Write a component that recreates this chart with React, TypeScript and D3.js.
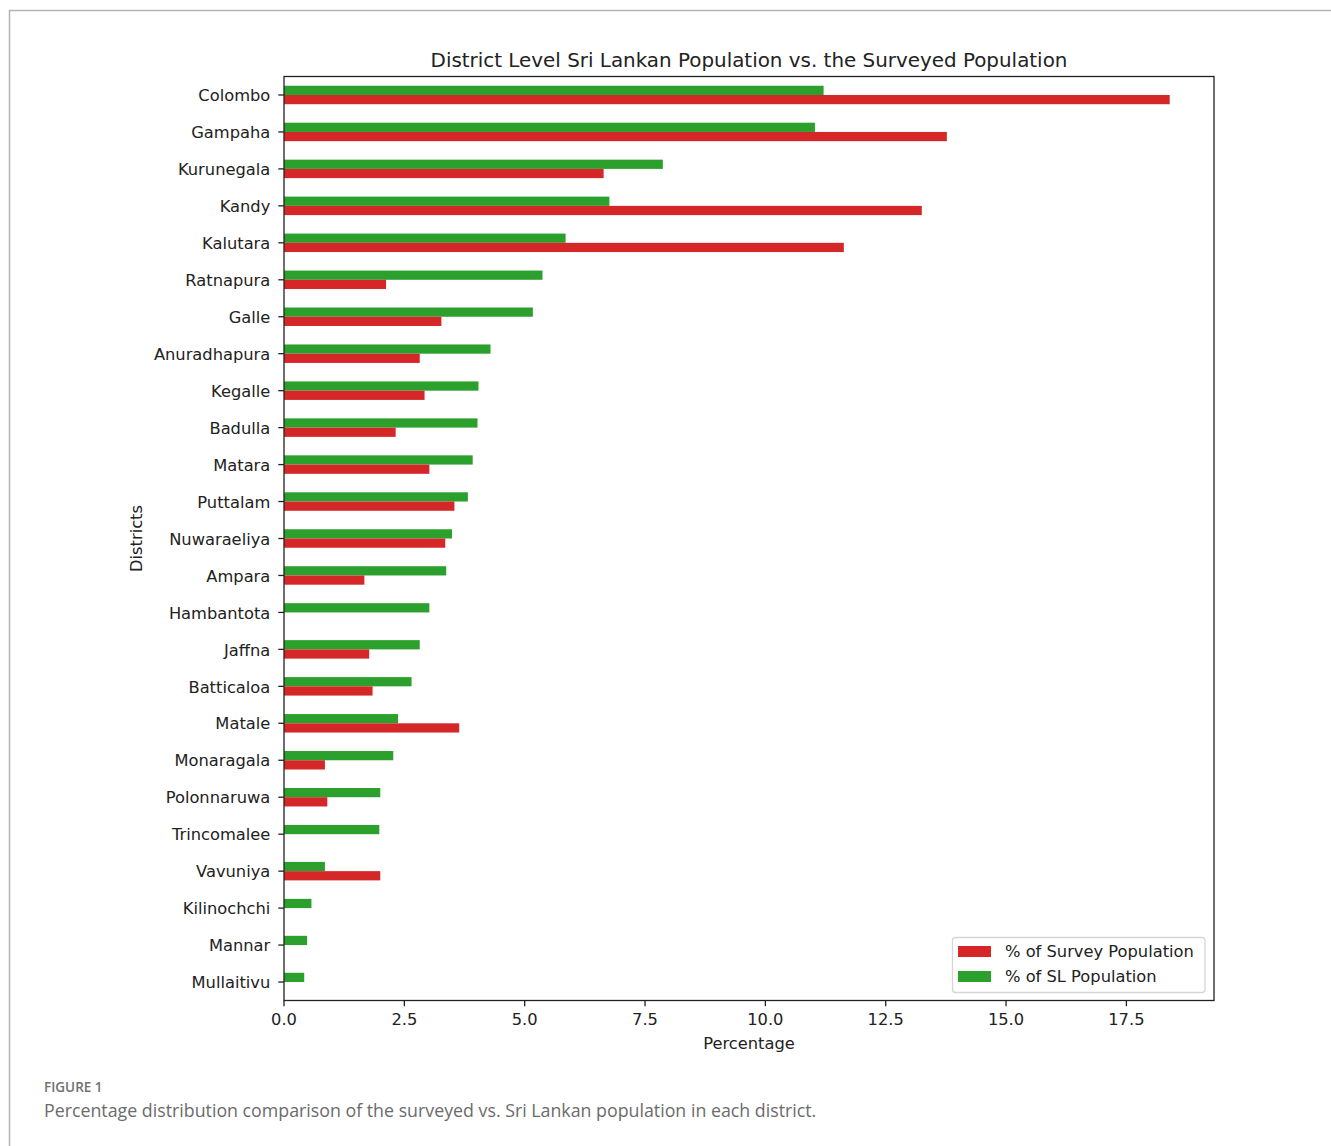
import React from "react";
import * as d3 from "d3";

// Districts, in plotting order (top to bottom)
const districts = [
  "Colombo", "Gampaha", "Kurunegala", "Kandy", "Kalutara", "Ratnapura", "Galle",
  "Anuradhapura", "Kegalle", "Badulla", "Matara", "Puttalam", "Nuwaraeliya", "Ampara",
  "Hambantota", "Jaffna", "Batticaloa", "Matale", "Monaragala", "Polonnaruwa",
  "Trincomalee", "Vavuniya", "Kilinochchi", "Mannar", "Mullaitivu",
];

// Share of the surveyed population per district (%)
const surveyPct = [
  18.4, 13.77, 6.64, 13.25, 11.63, 2.12, 3.27,
  2.82, 2.92, 2.32, 3.02, 3.54, 3.35, 1.67,
  0, 1.77, 1.84, 3.64, 0.85, 0.9,
  0, 2.0, 0, 0, 0,
];

// Share of the Sri Lankan population per district (%)
const slPct = [
  11.21, 11.03, 7.87, 6.76, 5.85, 5.37, 5.17,
  4.29, 4.04, 4.02, 3.92, 3.82, 3.49, 3.37,
  3.02, 2.82, 2.65, 2.37, 2.27, 2.0,
  1.98, 0.85, 0.57, 0.48, 0.42,
];

const xTicks = [0, 2.5, 5, 7.5, 10, 12.5, 15, 17.5];

const seriesNames = ["% of Survey Population", "% of SL Population"];
const RED = "#d62728";
const GREEN = "#2ca02c";
const INK = "#222";
const FONT = "'DejaVu Sans', sans-serif";
const CAPTION_FONT = "'Open Sans', Lato, sans-serif";

export default function App() {
  const W = 1331;
  const H = 1146;
  const left = 284;
  const right = 1214;
  const top = 76.5;
  const bottom = 1000.5;

  const xMax = d3.max(surveyPct.concat(slPct)) as number;
  const x = d3.scaleLinear().domain([0, xMax * 1.05]).range([left, right]);
  const y = d3
    .scaleLinear()
    .domain([-0.5, districts.length - 0.5])
    .range([top, bottom]);
  const step = y(1) - y(0);
  const barH = step * 0.25;

  const fs = 16.3;
  const tickLen = 5.7;

  return (
    <svg
      width={W}
      height={H}
      style={{ position: "absolute", left: 0, top: 0, background: "#fff", fontFamily: FONT }}
    >
      {/* page frame */}
      <path d={`M9.5,${H} V10.5 H${W}`} fill="none" stroke="#b4b4b4" strokeWidth={1.5} />

      {/* bars */}
      {districts.map((d, i) => (
        <g key={d}>
          <rect
            x={x(0)}
            y={y(i) - barH}
            width={x(slPct[i]) - x(0)}
            height={barH}
            fill={GREEN}
          />
          <rect
            x={x(0)}
            y={y(i)}
            width={x(surveyPct[i]) - x(0)}
            height={barH}
            fill={RED}
          />
        </g>
      ))}

      {/* axes frame */}
      <rect
        x={left}
        y={top}
        width={right - left}
        height={bottom - top}
        fill="none"
        stroke={INK}
        strokeWidth={1.3}
      />

      {/* y ticks */}
      {districts.map((d, i) => (
        <g key={"yt" + d}>
          <line x1={left - tickLen} x2={left} y1={y(i)} y2={y(i)} stroke={INK} strokeWidth={1.3} />
          <text
            x={left - tickLen - 8}
            y={y(i)}
            dy="0.38em"
            textAnchor="end"
            fontSize={fs}
            fill={INK}
          >
            {d}
          </text>
        </g>
      ))}

      {/* x ticks */}
      {xTicks.map((t) => (
        <g key={"xt" + t}>
          <line x1={x(t)} x2={x(t)} y1={bottom} y2={bottom + tickLen} stroke={INK} strokeWidth={1.3} />
          <text x={x(t)} y={1025} textAnchor="middle" fontSize={fs} fill={INK}>
            {t.toFixed(1)}
          </text>
        </g>
      ))}

      {/* axis labels */}
      <text x={(left + right) / 2} y={1049} textAnchor="middle" fontSize={fs} fill={INK}>
        Percentage
      </text>
      <text
        transform={`translate(142, ${(top + bottom) / 2}) rotate(-90)`}
        textAnchor="middle"
        fontSize={fs}
        fill={INK}
      >
        Districts
      </text>

      {/* title */}
      <text x={(left + right) / 2} y={66.5} textAnchor="middle" fontSize={19.9} fill={INK}>
        District Level Sri Lankan Population vs. the Surveyed Population
      </text>

      {/* legend */}
      <g>
        <rect
          x={952.5}
          y={937.5}
          width={252.5}
          height={55}
          rx={3}
          fill="#fff"
          fillOpacity={0.8}
          stroke="#d6d6d6"
          strokeWidth={1.3}
        />
        {[RED, GREEN].map((c, k) => (
          <g key={c}>
            <rect x={958} y={946 + k * 25} width={33} height={11} fill={c} />
            <text x={1005} y={957 + k * 25} fontSize={fs} fill={INK}>
              {seriesNames[k]}
            </text>
          </g>
        ))}
      </g>

      {/* figure caption */}
      <text x={44} y={1092} fontSize={13.5} fontWeight={600} fontFamily={CAPTION_FONT} fill="#707070">
        FIGURE 1
      </text>
      <text x={44} y={1117} fontSize={17.8} fontFamily={CAPTION_FONT} fill="#6b6b6b">
        Percentage distribution comparison of the surveyed vs. Sri Lankan population in each district.
      </text>
    </svg>
  );
}
